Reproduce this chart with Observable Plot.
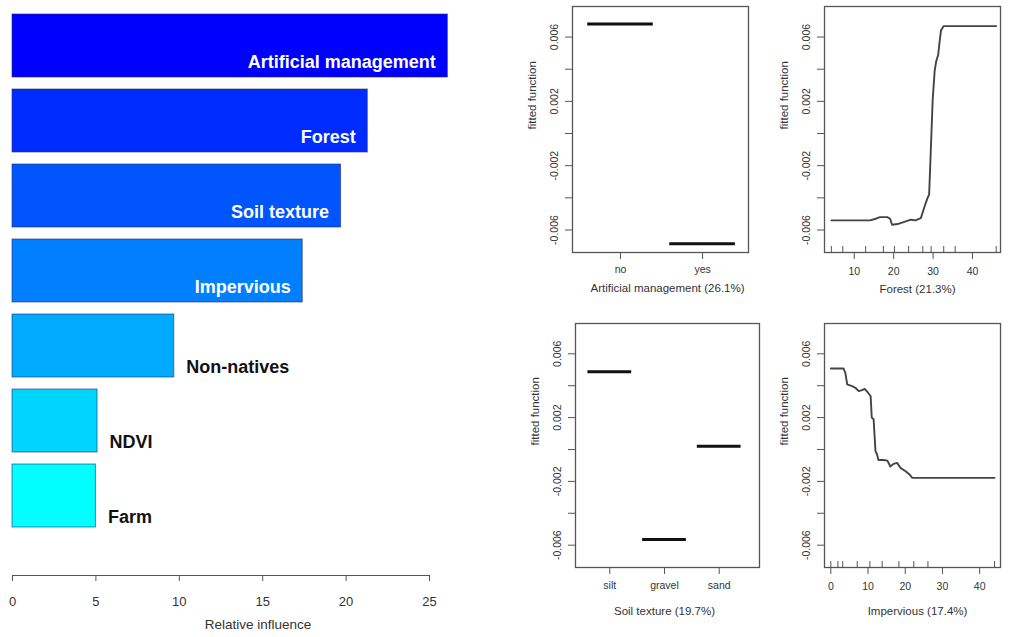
<!DOCTYPE html>
<html>
<head>
<meta charset="utf-8">
<script src="https://cdn.jsdelivr.net/npm/d3@7"></script>
<script src="https://cdn.jsdelivr.net/npm/@observablehq/plot@0.6"></script>
<style>
html, body { margin: 0; padding: 0; background: #fff; }
#chart { position: relative; width: 1010px; height: 637px; overflow: hidden; font-family: "Liberation Sans", Arial, sans-serif; }
#chart > div { position: absolute; }
#chart svg { overflow: visible; display: block; }
</style>
</head>
<body>
<div id="chart"></div>
<script>
// ---------- data ----------
const predictors = ["Artificial management", "Forest", "Soil texture", "Impervious", "Non-natives", "NDVI", "Farm"];
const influence = [26.1, 21.3, 19.7, 17.4, 9.7, 5.1, 5.0];
const barColors = ["#0000FF", "#002BFF", "#0055FF", "#0080FF", "#00AAFF", "#00D5FF", "#00FFFF"];
const influenceTicks = [0, 5, 10, 15, 20, 25];

const yTicks = [-0.006, -0.004, -0.002, 0, 0.002, 0.004, 0.006];
const yTickLabels = [-0.006, -0.002, 0.002, 0.006];

const artLevels = ["no", "yes"];
const artValues = [0.00681, -0.00685];

const soilLevels = ["silt", "gravel", "sand"];
const soilValues = [0.00487, -0.00564, 0.0002];

const forestX = [4.2, 14.0, 15.5, 16.5, 18.4, 19.1, 19.6, 21.0, 22.7, 24.4, 25.5, 26.9, 27.8, 28.6, 29.0, 29.9, 30.4, 30.8, 31.3, 31.6, 32.0, 32.7, 46.0];
const forestY = [-0.0054, -0.0054, -0.0053, -0.0052, -0.0052, -0.0053, -0.00567, -0.00563, -0.0055, -0.00536, -0.0054, -0.00526, -0.00457, -0.0040, -0.0038, 0.0021, 0.0039, 0.0045, 0.0049, 0.0056, 0.0064, 0.00668, 0.00668];
const forestRug = [4.2, 7.1, 12.9, 17.4, 20.2, 23.8, 27.4, 29.5, 32.7, 35.6, 46.0];
const forestTicks = [10, 20, 30, 40];

const impX = [0, 3.4, 3.9, 4.4, 5.7, 6.6, 7.5, 8.4, 9.1, 10.0, 10.7, 11.0, 11.5, 12.0, 12.4, 12.8, 14.2, 15.2, 16.0, 16.9, 17.8, 18.7, 20.1, 21.0, 21.9, 44];
const impY = [0.00508, 0.00508, 0.0048, 0.00408, 0.00397, 0.00387, 0.00366, 0.00372, 0.0038, 0.00356, 0.00335, 0.0020, 0.0019, -0.0001, -0.0003, -0.00066, -0.00066, -0.0007, -0.00107, -0.0009, -0.00084, -0.00115, -0.00136, -0.00153, -0.00178, -0.00178];
const impRug = [0, 1.9, 3.2, 7.1, 10.5, 13.8, 18.3, 22.3, 26.1, 44];
const impTicks = [0, 10, 20, 30, 40];

const panelTitles = ["Artificial management (26.1%)", "Forest (21.3%)", "Soil texture (19.7%)", "Impervious (17.4%)"];
const yLabel = "fitted function";
const xLabel = "Relative influence";

// ---------- rendering ----------
const FONT = "'Liberation Sans', Arial, Helvetica, sans-serif";
const TXT = "#333";
const chart = document.getElementById("chart");
function place(node, left, top) {
  const wrap = document.createElement("div");
  wrap.style.left = left + "px";
  wrap.style.top = top + "px";
  wrap.appendChild(node);
  chart.appendChild(wrap);
}

// Left: relative influence bar chart
const bars = predictors.map((name, i) => ({name, value: influence[i], color: barColors[i]}));
const leftPlot = Plot.plot({
  width: 460, height: 637,
  marginLeft: 12, marginRight: 31, marginTop: 0, marginBottom: 62,
  style: {fontFamily: FONT, background: "transparent", color: TXT},
  x: {domain: [0, 25], axis: null},
  y: {domain: predictors, range: [0, 542], padding: 0.155, axis: null},
  color: {type: "identity"},
  marks: [
    Plot.barX(bars, {x: "value", y: "name", fill: "color", stroke: "#2a2a60", strokeOpacity: 0.6, strokeWidth: 1}),
    Plot.text(bars.filter(d => d.value > 12), {x: "value", y: "name", text: "name", textAnchor: "end", dx: -12, dy: 16, fill: "white", fontWeight: "bold", fontSize: 18}),
    Plot.text(bars.filter(d => d.value <= 12), {x: "value", y: "name", text: "name", textAnchor: "start", dx: 12, dy: 21, fill: "#111", fontWeight: "bold", fontSize: 18}),
    Plot.frame({anchor: "bottom", stroke: "#555"}),
    Plot.axisX({ticks: influenceTicks, tickSize: 6, tickPadding: 15, fontSize: 13, label: null, stroke: "#555"}),
    Plot.text([xLabel], {frameAnchor: "bottom", text: d => d, dx: 37, dy: 53, fontSize: 13.5, fill: TXT})
  ]
});
place(leftPlot, 0, 0);

// Right: partial dependence panels
const Y_DOMAIN = [-0.0074, 0.0079];
function panel(cfg) {
  const frameH = cfg.height - cfg.mt - cfg.mb;
  const marks = [
    Plot.frame({stroke: "#555", strokeWidth: 1.3}),
    Plot.axisY({ticks: yTicks, tickSize: 7, tickFormat: () => "", label: null, stroke: "#555"}),
    Plot.text(yTickLabels, {y: d => d, text: d => d.toFixed(3), frameAnchor: "left", rotate: -90, dx: -18, fontSize: 10.5, fill: TXT, textAnchor: "middle", lineAnchor: "middle"}),
    Plot.text([yLabel], {frameAnchor: "left", text: d => d, rotate: -90, dx: -40, fontSize: 11.5, fill: TXT, lineAnchor: "middle"}),
    Plot.axisX({ticks: cfg.xTicks, tickFormat: cfg.xTickFormat, tickSize: 7, tickPadding: cfg.tickPad, fontSize: 10.5, label: null, stroke: "#555", fill: TXT}),
    Plot.text([cfg.title], {frameAnchor: "bottom", text: d => d, dx: cfg.titleDx, dy: cfg.titleDy, fontSize: 11.5, fill: TXT, lineAnchor: "middle"})
  ];
  if (cfg.rug) marks.push(Plot.tickX(cfg.rug, {x: d => d, insetTop: frameH - 6, stroke: "#555", strokeWidth: 1}));
  marks.push(...cfg.marks);
  const p = Plot.plot({
    width: cfg.width, height: cfg.height,
    marginTop: cfg.mt, marginRight: cfg.mr, marginBottom: cfg.mb, marginLeft: cfg.ml,
    style: {fontFamily: FONT, background: "transparent", color: TXT},
    x: {domain: cfg.xDomain, axis: null},
    y: {domain: Y_DOMAIN, axis: null},
    marks
  });
  place(p, cfg.left, cfg.top);
}

const artData = artLevels.map((l, i) => ({pos: i + 1, v: artValues[i]}));
const soilData = soilLevels.map((l, i) => ({pos: i + 1, v: soilValues[i]}));
const forestData = forestX.map((x, i) => ({x, y: forestY[i]}));
const impData = impX.map((x, i) => ({x, y: impY[i]}));

panel({
  left: 520, top: 0, width: 240, height: 310, mt: 6, mr: 12, mb: 58, ml: 52,
  xDomain: [0.415, 2.56], xTicks: [1, 2], xTickFormat: i => artLevels[i - 1], tickPad: 6,
  title: panelTitles[0], titleDx: 7, titleDy: 36,
  marks: [Plot.ruleY(artData, {y: "v", x1: d => d.pos - 0.4, x2: d => d.pos + 0.4, stroke: "#111", strokeWidth: 3})]
});
panel({
  left: 760, top: 0, width: 250, height: 310, mt: 6, mr: 10, mb: 58, ml: 64,
  xDomain: [2.46, 47.1], xTicks: forestTicks, xTickFormat: d => String(d), tickPad: 8,
  title: panelTitles[1], titleDx: 5, titleDy: 37, rug: forestRug,
  marks: [Plot.line(forestData, {x: "x", y: "y", stroke: "#444", strokeWidth: 1.9})]
});
panel({
  left: 520, top: 310, width: 240, height: 327, mt: 13, mr: 1, mb: 70, ml: 55,
  xDomain: [0.373, 3.737], xTicks: [1, 2, 3], xTickFormat: i => soilLevels[i - 1], tickPad: 7,
  title: panelTitles[2], titleDx: -3, titleDy: 44,
  marks: [Plot.ruleY(soilData, {y: "v", x1: d => d.pos - 0.4, x2: d => d.pos + 0.4, stroke: "#111", strokeWidth: 3})]
});
panel({
  left: 760, top: 310, width: 250, height: 327, mt: 13, mr: 10, mb: 70, ml: 64,
  xDomain: [-1.7, 45.6], xTicks: impTicks, xTickFormat: d => String(d), tickPad: 8,
  title: panelTitles[3], titleDx: 5, titleDy: 44, rug: impRug,
  marks: [Plot.line(impData, {x: "x", y: "y", stroke: "#444", strokeWidth: 1.9})]
});
</script>
</body>
</html>
